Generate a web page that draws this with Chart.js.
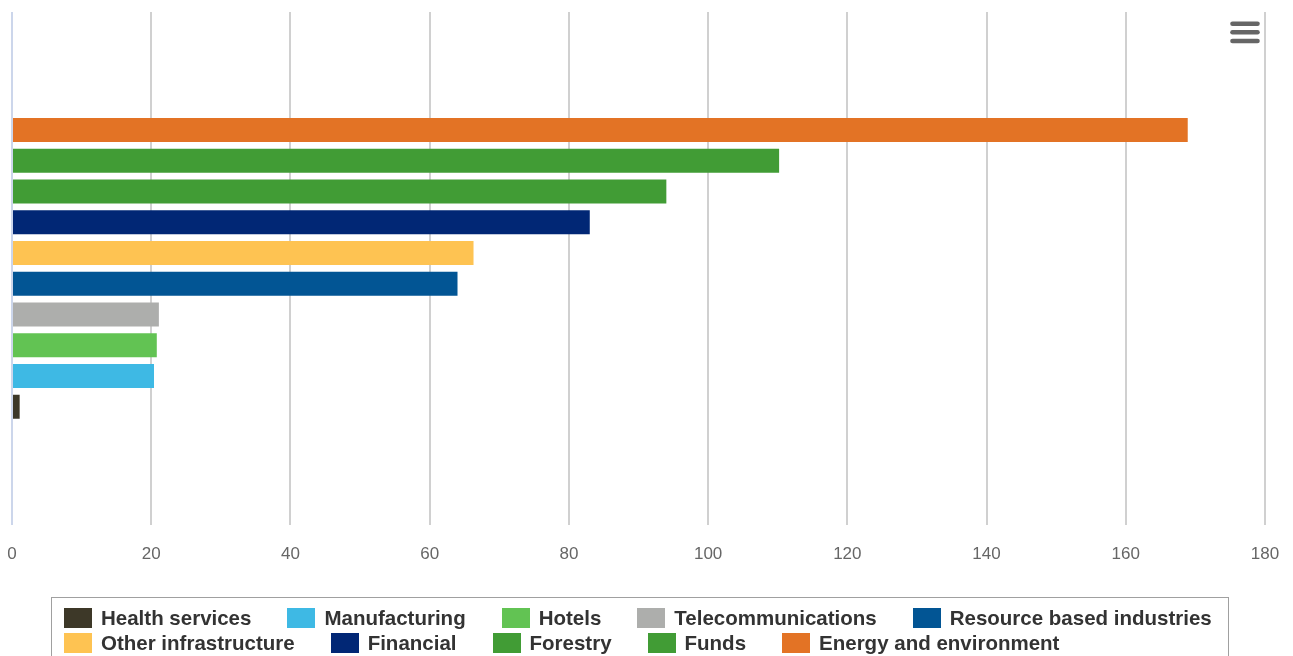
<!DOCTYPE html>
<html>
<head>
<meta charset="utf-8">
<script src="https://cdn.jsdelivr.net/npm/chart.js@4/dist/chart.umd.min.js"></script>
<style>
  html, body { margin: 0; padding: 0; background: #fff; overflow: hidden; }
  #wrap { position: relative; width: 1293px; height: 656px; }
  #legend {
    position: absolute; left: 51px; top: 597px; width: 1178px; height: 80px;
    box-sizing: border-box; border: 1px solid #a0a0a0;
    padding: 10px 0 0 12px;
    display: flex; flex-wrap: wrap; align-content: flex-start;
    column-gap: 36px; row-gap: 5px;
    font-family: "Liberation Sans", Arial, sans-serif; font-weight: bold;
    font-size: 20.5px; color: #333; line-height: 20px;
  }
  #legend .item { display: flex; align-items: center; white-space: nowrap; }
  #legend .box { width: 28px; height: 20px; margin-right: 9px; }
</style>
</head>
<body>
<div id="wrap">
  <canvas id="myChart"></canvas>
  <div id="legend"></div>
</div>
<script>
// one group, one bar per sector (legend order)
const categories = [""];
const sectors = [
  "Health services", "Manufacturing", "Hotels", "Telecommunications",
  "Resource based industries", "Other infrastructure", "Financial",
  "Forestry", "Funds", "Energy and environment"
];
const values = [1.1, 20.4, 20.8, 21.1, 64.0, 66.3, 83.0, 94.0, 110.2, 168.9];
const colors = [
  "#3d3828", "#3eb9e4", "#62c353", "#adaeac", "#025594",
  "#fec352", "#012775", "#419c35", "#419c35", "#e37325"
];
const xTicks = [0, 20, 40, 60, 80, 100, 120, 140, 160, 180];

// bars are drawn top-to-bottom in reverse legend order
const datasets = sectors.map((name, i) => ({
  label: name,
  data: [values[i]],
  backgroundColor: colors[i],
  borderWidth: 0,
})).reverse();

const menuIcon = {
  id: "menuIcon",
  afterDraw(chart) {
    const c = chart.ctx;
    c.save();
    c.strokeStyle = "#666";
    c.lineWidth = 4.6;
    c.lineCap = "round";
    [23.7, 32.3, 41].forEach((y) => {
      c.beginPath();
      c.moveTo(1232.5, y);
      c.lineTo(1257.5, y);
      c.stroke();
    });
    c.restore();
  },
};

const ctx = document.getElementById("myChart");
const myChart = new Chart(ctx, {
  type: "bar",
  data: { labels: categories, datasets: datasets },
  options: {
    indexAxis: "y",
    responsive: true,
    maintainAspectRatio: false,
    animation: false,
    categoryPercentage: 0.6,
    barPercentage: 0.78,
    layout: { padding: { top: 12, left: 12, right: 28, bottom: 91 } },
    plugins: { legend: { display: false }, tooltip: { enabled: false } },
    scales: {
      y: { display: false },
      x: {
        min: 0,
        max: 180,
        afterBuildTicks: (axis) => { axis.ticks = xTicks.map((v) => ({ value: v })); },
        border: { display: false },
        grid: {
          drawTicks: true,
          tickLength: 20,
          tickColor: "rgba(0,0,0,0)",
          lineWidth: 2,
          color: (c) => (c.tick && c.tick.value === 0 ? "#ccd6eb" : "#d0d0d0"),
        },
        ticks: {
          padding: 0,
          color: "#666",
          font: { family: "'Liberation Sans', Arial, sans-serif", size: 17 },
        },
      },
    },
  },
  plugins: [menuIcon],
});

// html legend in the original series order
const legendEl = document.getElementById("legend");
sectors.forEach((name, i) => {
  const item = document.createElement("div");
  item.className = "item";
  const box = document.createElement("span");
  box.className = "box";
  box.style.background = colors[i];
  const txt = document.createElement("span");
  txt.textContent = name;
  item.appendChild(box);
  item.appendChild(txt);
  legendEl.appendChild(item);
});
</script>
</body>
</html>
